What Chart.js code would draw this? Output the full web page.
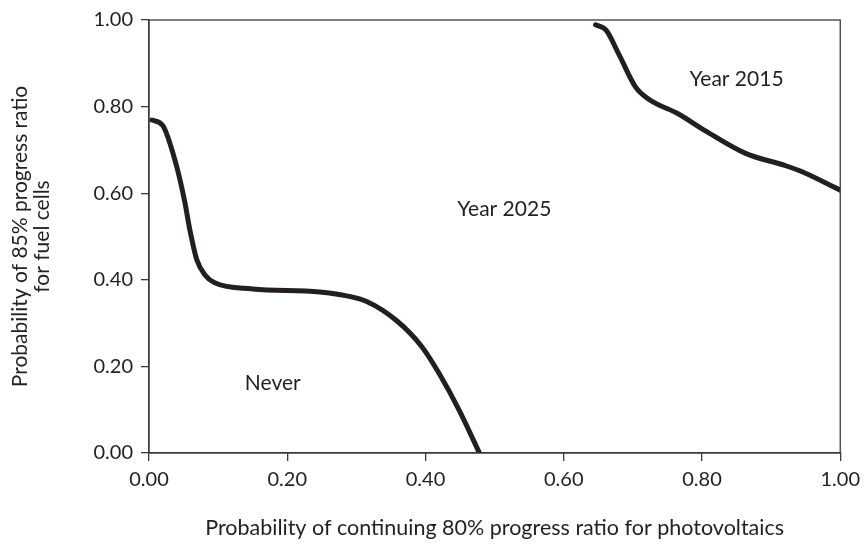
<!DOCTYPE html>
<html>
<head>
<meta charset="utf-8">
<script src="https://cdn.jsdelivr.net/npm/chart.js@4"></script>
<style>
  html, body { margin: 0; padding: 0; background: #fff; }
  #wrap { width: 867px; height: 545px; }
</style>
</head>
<body>
<div id="wrap"><canvas id="chart" width="867" height="545"></canvas></div>
<script>
// boundary curve: Never / Year 2025
const neverX = [0.004, 0.020, 0.040, 0.052, 0.059, 0.069, 0.081, 0.095, 0.150, 0.247, 0.286, 0.315, 0.358, 0.395, 0.420, 0.449, 0.478];
const neverY = [0.769, 0.756, 0.662, 0.578, 0.516, 0.447, 0.411, 0.393, 0.379, 0.372, 0.363, 0.350, 0.306, 0.245, 0.183, 0.098, 0.000];

// boundary curve: Year 2025 / Year 2015
const y2015X = [0.646, 0.661, 0.680, 0.704, 0.723, 0.766, 0.805, 0.863, 0.920, 0.944, 1.000];
const y2015Y = [0.989, 0.977, 0.920, 0.845, 0.817, 0.783, 0.744, 0.692, 0.664, 0.650, 0.607];

// region labels
const regionNames = ["Never", "Year 2025", "Year 2015"];
const regionX = [0.179, 0.514, 0.850];
const regionY = [0.160, 0.562, 0.863];

const axisTicks = [0, 0.2, 0.4, 0.6, 0.8, 1.0];

const ink = "#231f20";
const fontFam = "Lato, 'Open Sans', sans-serif";

function toPoints(xs, ys) {
  return xs.map((x, i) => ({ x: x, y: ys[i] }));
}

// box round the plot and labels for the regions
const frame = {
  id: "frame",
  afterDatasetsDraw(chart) {
    const { ctx, chartArea: a, scales } = chart;
    ctx.save();
    ctx.strokeStyle = "#3a3a3a";
    ctx.lineWidth = 1.3;
    ctx.strokeRect(a.left, a.top, a.right - a.left, a.bottom - a.top);
    ctx.fillStyle = ink;
    ctx.font = "21px " + fontFam;
    ctx.textAlign = "center";
    ctx.textBaseline = "middle";
    regionNames.forEach((n, i) => {
      ctx.fillText(n, scales.x.getPixelForValue(regionX[i]), scales.y.getPixelForValue(regionY[i]));
    });
    ctx.restore();
  }
};

const lineStyle = {
  showLine: true,
  borderColor: ink,
  borderWidth: 5,
  pointRadius: 0,
  cubicInterpolationMode: "monotone",
  borderCapStyle: "round",
  borderJoinStyle: "round"
};

new Chart(document.getElementById("chart"), {
  type: "scatter",
  data: {
    datasets: [
      Object.assign({ label: "never", data: toPoints(neverX, neverY) }, lineStyle),
      Object.assign({ label: "2015", data: toPoints(y2015X, y2015Y) }, lineStyle)
    ]
  },
  options: {
    responsive: false,
    animation: false,
    layout: { padding: { top: 15, right: 25, left: 0, bottom: 0 } },
    plugins: { legend: { display: false }, tooltip: { enabled: false } },
    scales: {
      x: {
        type: "linear",
        min: 0, max: 1,
        afterBuildTicks: (s) => { s.ticks = axisTicks.map((v) => ({ value: v })); },
        afterFit: (s) => { s.height = 92; },
        grid: { drawOnChartArea: false, drawTicks: true, tickLength: 8, color: "#3a3a3a", lineWidth: 1.3 },
        border: { color: "#3a3a3a", width: 1.3 },
        ticks: { color: ink, padding: 7, font: { family: fontFam, size: 20 }, callback: (v) => v.toFixed(2), maxRotation: 0 },
        title: {
          display: true,
          text: "Probability of continuing 80% progress ratio for photovoltaics",
          color: ink,
          font: { family: fontFam, size: 21.5 },
          padding: { top: 0, bottom: 4 }
        }
      },
      y: {
        type: "linear",
        min: 0, max: 1,
        afterBuildTicks: (s) => { s.ticks = axisTicks.map((v) => ({ value: v })); },
        afterFit: (s) => { s.width = 149; },
        grid: { drawOnChartArea: false, drawTicks: true, tickLength: 8, color: "#3a3a3a", lineWidth: 1.3 },
        border: { color: "#3a3a3a", width: 1.3 },
        ticks: { color: ink, padding: 8, font: { family: fontFam, size: 20 }, callback: (v) => v.toFixed(2) },
        title: {
          display: true,
          text: ["Probability of 85% progress ratio", "for fuel cells"],
          color: ink,
          font: { family: fontFam, size: 21, lineHeight: 1.05 },
          padding: { top: 9, bottom: 0 }
        }
      }
    }
  },
  plugins: [frame]
});
</script>
</body>
</html>
